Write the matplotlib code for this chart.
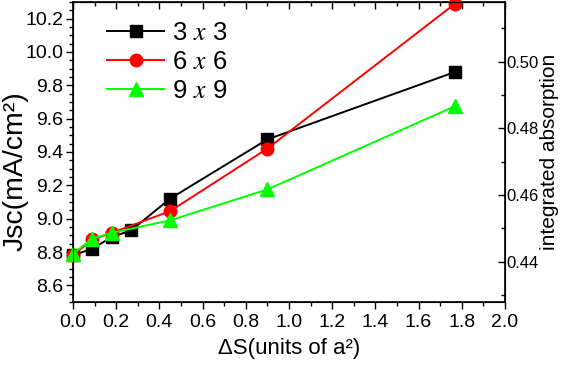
import numpy as np
import matplotlib
matplotlib.use('Agg')
import matplotlib.pyplot as plt
from matplotlib.ticker import MultipleLocator

plt.rcParams['font.family'] = ['Liberation Sans', 'DejaVu Sans']
plt.rcParams['mathtext.fontset'] = 'stix'

# data
x_3 = [0.0, 0.09, 0.18, 0.27, 0.45, 0.90, 1.77]
jsc_3 = [8.78, 8.82, 8.89, 8.93, 9.12, 9.475, 9.88]
x_6 = [0.0, 0.09, 0.18, 0.45, 0.90, 1.77]
jsc_6 = [8.78, 8.875, 8.915, 9.045, 9.42, 10.29]
x_9 = [0.0, 0.09, 0.18, 0.45, 0.90, 1.77]
jsc_9 = [8.79, 8.88, 8.915, 8.99, 9.175, 9.675]
labels = ['3 $x$ 3', '6 $x$ 6', '9 $x$ 9']

fig = plt.figure(figsize=(5.61, 3.67), dpi=100)
ax = fig.add_axes([0.130, 0.177, 0.770, 0.818])

ax.plot(x_3, jsc_3, color='k', marker='s', ms=8, lw=1.4, label=labels[0], clip_on=False, zorder=3)
ax.plot(x_6, jsc_6, color='#ff0000', marker='o', ms=9, lw=1.4, label=labels[1], clip_on=False, zorder=3)
ax.plot(x_9, jsc_9, color='#00ff00', marker='^', ms=10, lw=1.4, label=labels[2], clip_on=False, zorder=4)

ax.set_xlim(0, 2.0)
ax.set_ylim(8.5, 10.3)
ax.xaxis.set_major_locator(MultipleLocator(0.2))
ax.xaxis.set_minor_locator(MultipleLocator(0.1))
ax.yaxis.set_major_locator(MultipleLocator(0.2))
ax.yaxis.set_minor_locator(MultipleLocator(0.05))
ax.tick_params(axis='both', which='major', labelsize=14, length=5, width=1, direction='out')
ax.tick_params(axis='both', which='minor', length=3, width=1, direction='out')
ax.tick_params(axis='y', pad=2)
ax.xaxis.set_major_formatter(plt.FuncFormatter(lambda v, p: f'{v:.1f}'))
ax.yaxis.set_major_formatter(plt.FuncFormatter(lambda v, p: f'{v:.1f}'))
for s in ax.spines.values():
    s.set_linewidth(1.2)

# top ticks point inward
top = ax.secondary_xaxis('top')
top.xaxis.set_major_locator(MultipleLocator(0.2))
top.xaxis.set_minor_locator(MultipleLocator(0.1))
top.tick_params(axis='x', which='major', direction='in', length=5, width=1, labeltop=False)
top.tick_params(axis='x', which='minor', direction='in', length=3, width=1)

ax.set_xlabel('\u0394S(units of a\u00b2)', fontsize=16, labelpad=5)
ax.set_ylabel('Jsc(mA/cm\u00b2)', fontsize=20.5)
ax.yaxis.set_label_coords(-0.102, 0.437)

ax2 = ax.twinx()
ax2.set_ylim(0.4279, 0.518)
ax2.yaxis.set_major_locator(MultipleLocator(0.02))
ax2.yaxis.set_minor_locator(MultipleLocator(0.01))
ax2.yaxis.set_major_formatter(plt.FuncFormatter(lambda v, p: f'{v:.2f}'))
ax2.tick_params(axis='y', which='major', direction='in', length=5, width=1, labelsize=12, pad=1)
ax2.tick_params(axis='y', which='minor', direction='in', length=3, width=1)
ax2.set_ylabel('integrated absorption', fontsize=15, labelpad=1)

ax.legend(loc='upper left', bbox_to_anchor=(0.05, 0.98), frameon=False, fontsize=18.5,
          handlelength=2.2, handletextpad=0.3, labelspacing=0.2, borderaxespad=0.1)

fig.savefig('out.png', dpi=100)
